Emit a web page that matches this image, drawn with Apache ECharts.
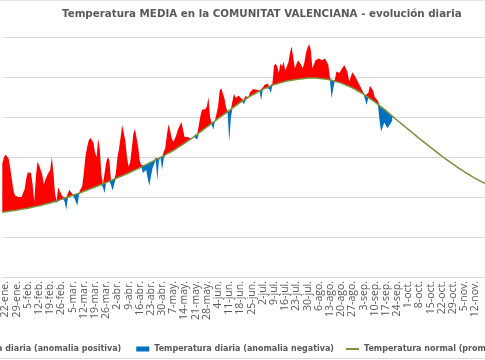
<!DOCTYPE html>
<html><head><meta charset="utf-8">
<script src="https://cdn.jsdelivr.net/npm/echarts@6/dist/echarts.min.js"></script>
<style>html,body{margin:0;padding:0;background:#fff}#c{width:485px;height:360px}</style>
</head><body><div id="c"></div>
<script>
// Day-of-year of first category (20-ene.), non-leap year
const FIRST_DAY = 20;
const MONTH_NAMES = ['ene.','feb.','mar.','abr.','may.','jun.','jul.','ago.','sep.','oct.','nov.','dic.'];
const MONTH_LENGTHS = [31,28,31,30,31,30,31,31,30,31,30,31];

// Daily mean temperature (°C), from 20-ene. to 22-sep.
const dailyTemp = [
14.2,14.9,15.3,15.5,14.8,13.6,12.2,10.8,10.2,10.1,
10.0,9.9,10.0,10.1,11.0,12.3,13.1,13.2,13.0,11.5,
9.4,12.5,14.4,14.0,14.2,12.8,11.6,12.2,12.7,12.5,
13.4,15.0,13.0,10.4,9.3,11.2,11.4,10.3,10.0,9.4,
8.4,9.8,10.9,11.0,10.3,9.9,9.4,8.9,10.3,11.0,
11.3,13.0,15.0,16.2,17.0,17.4,17.5,16.8,15.6,15.0,
17.3,16.0,12.8,11.2,10.5,14.3,15.0,14.6,11.5,10.8,
11.6,12.9,14.9,16.0,17.4,19.0,18.9,17.0,15.0,13.8,
14.3,16.0,17.9,18.5,18.3,16.3,14.5,14.0,13.0,13.5,
13.4,12.3,11.4,12.6,13.6,14.5,14.9,12.1,14.6,14.9,
13.4,14.8,16.2,17.8,19.1,18.3,17.3,16.9,17.3,17.8,
18.5,18.9,19.4,18.5,17.5,17.3,17.5,17.4,17.3,17.4,
17.5,17.4,17.2,19.0,20.2,20.9,20.8,21.0,21.3,22.5,
20.0,19.1,18.4,19.5,20.4,21.3,23.3,23.6,23.5,22.3,
21.2,20.5,16.9,19.9,22.0,22.9,22.4,22.5,22.7,22.4,
22.4,21.6,22.6,22.8,22.5,23.1,23.3,23.5,23.6,23.4,
23.2,23.3,22.1,23.7,24.0,24.1,24.2,23.5,23.0,24.2,
26.4,26.7,26.3,25.5,26.7,26.3,26.9,25.8,26.0,26.8,
28.0,28.8,27.5,26.1,25.9,27.1,26.8,26.5,26.1,26.8,
28.0,28.7,29.1,28.4,26.1,26.3,27.1,27.2,27.3,27.5,
27.1,27.3,27.3,27.1,26.5,24.9,22.3,23.5,24.6,25.7,
25.7,25.5,25.9,26.2,26.5,26.3,25.6,24.4,25.0,25.6,
25.6,25.0,24.6,24.4,23.8,23.4,23.0,21.3,21.5,23.0,
23.9,24.0,23.3,22.5,22.3,22.0,19.6,18.2,19.5,19.3,
18.7,18.6,18.9,19.2,19.6,19.9
];

// Normal daily mean temperature (°C), from 20-ene. to 18-nov.
const normalTemp = [
8.10,8.12,8.15,8.18,8.21,8.24,8.27,8.30,8.32,8.35,
8.39,8.42,8.46,8.49,8.53,8.56,8.60,8.64,8.69,8.73,
8.77,8.81,8.86,8.90,8.95,9.00,9.05,9.10,9.15,9.20,
9.25,9.31,9.38,9.44,9.51,9.57,9.64,9.70,9.77,9.84,
9.91,9.99,10.06,10.13,10.20,10.27,10.34,10.41,10.49,10.56,
10.63,10.70,10.78,10.86,10.94,11.01,11.09,11.17,11.25,11.33,
11.41,11.49,11.56,11.64,11.72,11.80,11.89,11.97,12.06,12.14,
12.23,12.31,12.40,12.49,12.57,12.66,12.74,12.83,12.91,13.00,
13.09,13.19,13.28,13.37,13.46,13.56,13.65,13.75,13.85,13.95,
14.05,14.15,14.25,14.35,14.45,14.55,14.65,14.75,14.85,14.95,
15.05,15.16,15.26,15.37,15.48,15.59,15.69,15.80,15.93,16.06,
16.19,16.31,16.44,16.57,16.70,16.84,16.99,17.13,17.27,17.41,
17.56,17.70,17.85,18.00,18.15,18.30,18.45,18.60,18.75,18.90,
19.05,19.20,19.35,19.50,19.65,19.80,19.94,20.09,20.23,20.37,
20.51,20.66,20.80,20.95,21.10,21.25,21.40,21.55,21.70,21.85,
21.97,22.09,22.21,22.34,22.46,22.58,22.70,22.81,22.91,23.02,
23.13,23.24,23.34,23.45,23.54,23.62,23.71,23.79,23.88,23.96,
24.05,24.11,24.16,24.22,24.28,24.34,24.39,24.45,24.49,24.52,
24.56,24.59,24.63,24.66,24.70,24.72,24.74,24.76,24.79,24.81,
24.83,24.85,24.86,24.87,24.87,24.87,24.87,24.86,24.85,24.82,
24.79,24.76,24.74,24.71,24.68,24.65,24.59,24.54,24.48,24.42,
24.36,24.31,24.25,24.16,24.08,23.99,23.91,23.82,23.74,23.65,
23.54,23.42,23.31,23.19,23.08,22.96,22.85,22.71,22.58,22.44,
22.31,22.17,22.04,21.90,21.74,21.59,21.43,21.27,21.11,20.96,
20.80,20.63,20.46,20.29,20.11,19.94,19.77,19.60,19.44,19.27,
19.11,18.94,18.78,18.61,18.45,18.29,18.12,17.96,17.79,17.63,
17.46,17.30,17.14,16.99,16.83,16.67,16.51,16.36,16.20,16.05,
15.89,15.74,15.58,15.43,15.27,15.12,14.97,14.83,14.68,14.54,
14.39,14.25,14.10,13.96,13.83,13.69,13.56,13.42,13.29,13.15,
13.03,12.91,12.79,12.66,12.54,12.42,12.30,12.20,12.10,12.00,
11.90,11.80,11.70
];

const seriesNames = [
  'Temperatura diaria (anomalia positiva)',
  'Temperatura diaria (anomalia negativa)',
  'Temperatura normal (promedio 1991-2020)'
];
const titleText = 'Temperatura MEDIA en la COMUNITAT VALENCIANA - evolución diaria';

// category labels (d-mmm.)
function dayLabel(doy){
  let m = 0, d = doy;
  while (d > MONTH_LENGTHS[m]) { d -= MONTH_LENGTHS[m]; m++; }
  return d + '-' + MONTH_NAMES[m];
}
const categories = normalTemp.map((_, i) => dayLabel(FIRST_DAY + i));

const hasObs = (i) => i < dailyTemp.length;
// stack "pos": normal (hidden) + positive anomaly (red)
const posBase = normalTemp.map((n, i) => hasObs(i) ? n : '-');
const posData = normalTemp.map((n, i) => hasObs(i) ? Math.max(dailyTemp[i] - n, 0) : '-');
// stack "neg": min(obs, normal) (hidden) + negative anomaly (blue)
const negBase = normalTemp.map((n, i) => hasObs(i) ? Math.min(dailyTemp[i], n) : '-');
const negData = normalTemp.map((n, i) => hasObs(i) ? Math.max(n - dailyTemp[i], 0) : '-');

const chart = echarts.init(document.getElementById('c'), null, {renderer: 'canvas'});
const textGray = '#595959';
const legendText = {fontFamily: 'DejaVu Sans', fontWeight: 'bold', fontSize: 8, color: textGray};
chart.setOption({
  animation: false,
  backgroundColor: '#ffffff',
  title: {
    text: titleText, left: 57, top: 4,
    textStyle: {fontFamily: 'DejaVu Sans', fontWeight: 'bold', fontSize: 10.3, color: textGray}
  },
  legend: [
    {
      left: -78, top: 340, width: 900, itemGap: 15, itemWidth: 13, itemHeight: 5,
      textStyle: legendText,
      data: [
        {name: seriesNames[0], icon: 'rect'},
        {name: seriesNames[1], icon: 'rect'}
      ]
    },
    {
      left: 341, top: 340, width: 400, itemWidth: 13, itemHeight: 2,
      textStyle: legendText,
      data: [{name: seriesNames[2], icon: 'rect'}]
    }
  ],
  grid: {left: -2.92, width: 490.66, top: 37, bottom: 83, containLabel: false},
  xAxis: {
    type: 'category', data: categories, boundaryGap: false,
    axisLine: {lineStyle: {color: '#d9d9d9'}},
    axisTick: {show: false},
    axisLabel: {
      rotate: 90, margin: 4, fontFamily: 'Open Sans', fontSize: 10.5, color: textGray,
      interval: (idx) => idx % 7 === 2
    }
  },
  yAxis: {
    type: 'value', min: 0, max: 30, interval: 5,
    axisLabel: {show: false}, axisLine: {show: false}, axisTick: {show: false},
    splitLine: {lineStyle: {color: '#d9d9d9', width: 1}}
  },
  graphic: [
    {type: 'line', shape: {x1: 0, y1: 358.5, x2: 485, y2: 358.5}, style: {stroke: '#d9d9d9', lineWidth: 1}},
    {type: 'line', shape: {x1: 0, y1: 0.5, x2: 485, y2: 0.5}, style: {stroke: '#e6e6e6', lineWidth: 1}}
  ],
  series: [
    {type: 'line', stack: 'pos', data: posBase, symbol: 'none', silent: true,
     lineStyle: {opacity: 0}, z: 1},
    {type: 'line', name: seriesNames[0], stack: 'pos', data: posData, symbol: 'none',
     lineStyle: {opacity: 0, color: '#ff0000'}, itemStyle: {color: '#ff0000'},
     areaStyle: {color: '#ff0000', opacity: 1}, z: 2},
    {type: 'line', stack: 'neg', data: negBase, symbol: 'none', silent: true,
     lineStyle: {opacity: 0}, z: 1},
    {type: 'line', name: seriesNames[1], stack: 'neg', data: negData, symbol: 'none',
     lineStyle: {opacity: 0, color: '#0070c0'}, itemStyle: {color: '#0070c0'},
     areaStyle: {color: '#0070c0', opacity: 1}, z: 2},
    {type: 'line', name: seriesNames[2], data: normalTemp, symbol: 'none',
     lineStyle: {width: 1.5, color: '#77933c'}, itemStyle: {color: '#77933c'}, z: 3}
  ]
});
</script></body></html>
